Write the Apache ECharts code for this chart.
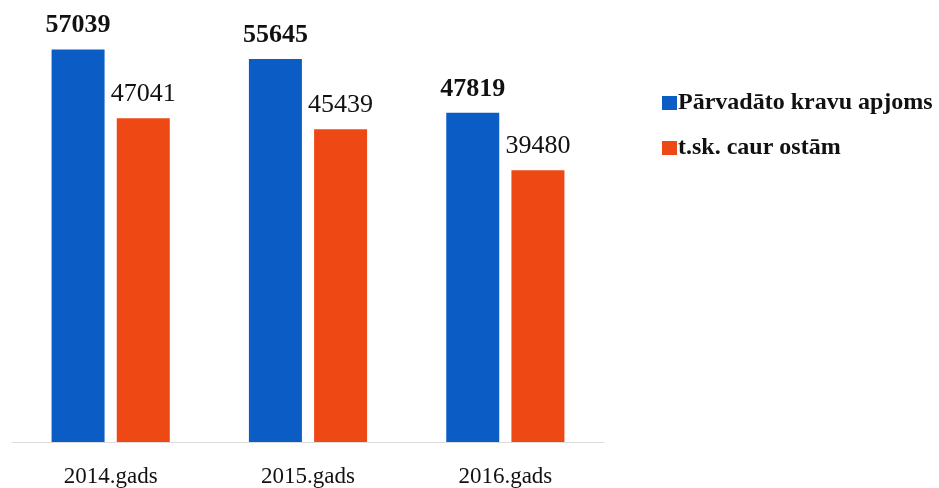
<!DOCTYPE html>
<html>
<head>
<meta charset="utf-8">
<script src="https://cdn.jsdelivr.net/npm/echarts@6/dist/echarts.min.js"></script>
<style>html,body{margin:0;padding:0;background:#fff}#c{width:939px;height:488px}</style>
</head>
<body>
<div id="c"></div>
<script>
const categories = ['2014.gads', '2015.gads', '2016.gads'];
const seriesNames = ['Pārvadāto kravu apjoms', 't.sk. caur ostām'];
const totalCargo = [57039, 55645, 47819];
const viaPorts = [47041, 45439, 39480];

const font = '"Liberation Serif", "Times New Roman", serif';
const chart = echarts.init(document.getElementById('c'));
chart.setOption({
  backgroundColor: '#fff',
  animation: false,
  grid: { left: 12, right: 335, top: 29, bottom: 41 },
  legend: {
    orient: 'vertical',
    left: 657,
    top: 86,
    itemWidth: 15,
    itemHeight: 14,
    itemGap: 21,
    icon: 'rect',
    textStyle: { fontFamily: font, fontSize: 24, fontWeight: 'bold', lineHeight: 24, color: '#111', padding: [0, 0, 0, -4] },
    data: seriesNames
  },
  xAxis: {
    type: 'category',
    data: categories,
    axisLine: { lineStyle: { color: '#dcdcdc', width: 1 } },
    axisTick: { show: false },
    axisLabel: { fontFamily: font, fontSize: 23, color: '#111', margin: 23 }
  },
  yAxis: {
    type: 'value',
    min: 0,
    max: 60000,
    show: false,
    splitLine: { show: false }
  },
  series: [
    {
      name: seriesNames[0],
      type: 'bar',
      data: totalCargo,
      barWidth: 53,
      barGap: '23%',
      itemStyle: { color: '#0b5cc5' },
      label: { show: true, position: 'top', distance: 11, fontFamily: font, fontSize: 26, fontWeight: 'bold', color: '#111' }
    },
    {
      name: seriesNames[1],
      type: 'bar',
      data: viaPorts,
      barWidth: 53,
      itemStyle: { color: '#ee4815' },
      label: { show: true, position: 'top', distance: 11, fontFamily: font, fontSize: 26, color: '#111' }
    }
  ]
});
</script>
</body>
</html>
